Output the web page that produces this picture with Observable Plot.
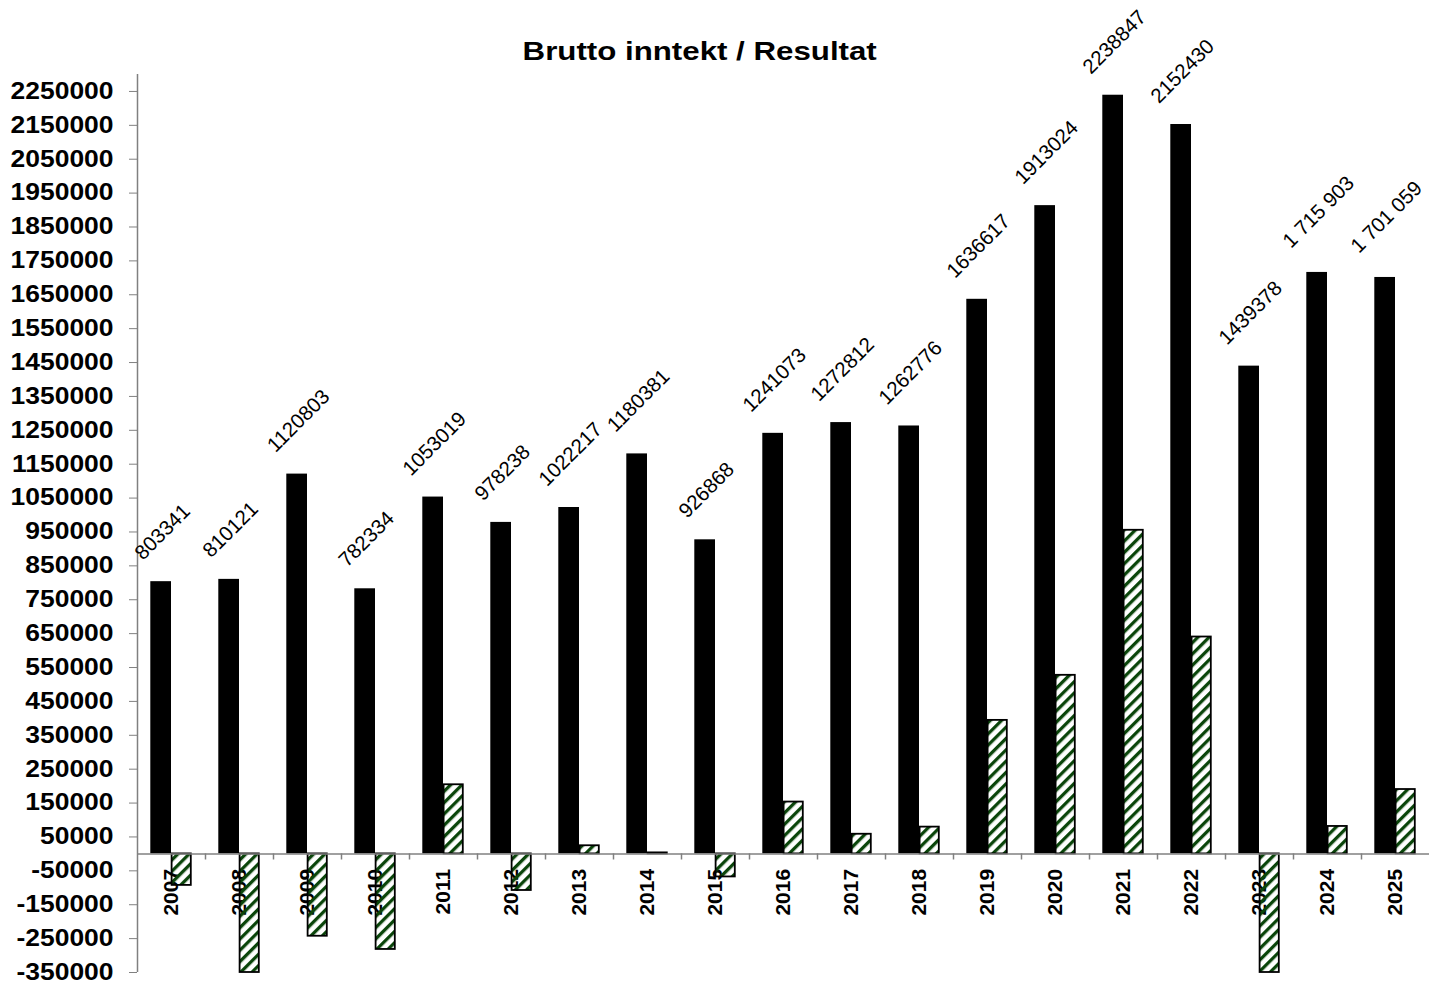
<!DOCTYPE html>
<html>
<head>
<meta charset="utf-8">
<script src="https://cdn.jsdelivr.net/npm/d3@7"></script>
<script src="https://cdn.jsdelivr.net/npm/@observablehq/plot@0.6"></script>
<style>
  body { margin: 0; background: #fff; }
  #wrap { position: relative; width: 1429px; height: 984px; overflow: hidden; }
  #title { position: absolute; top: 39px; left: 0; width: 1400px; text-align: center;
           font: bold 25px "Liberation Sans", Arial, sans-serif; line-height: 25px; color: #000; z-index: 2; }
  #title span { display: inline-block; transform: scaleX(1.25); transform-origin: center; }
</style>
</head>
<body>
<div id="wrap"><div id="title"><span>Brutto inntekt / Resultat</span></div></div>
<script>
const years = [2007, 2008, 2009, 2010, 2011, 2012, 2013, 2014, 2015, 2016, 2017, 2018, 2019, 2020, 2021, 2022, 2023, 2024, 2025];
const brutto = [803341, 810121, 1120803, 782334, 1053019, 978238, 1022217, 1180381, 926868, 1241073, 1272812, 1262776, 1636617, 1913024, 2238847, 2152430, 1439378, 1715903, 1701059];
const bruttoLabels = ["803341", "810121", "1120803", "782334", "1053019", "978238", "1022217", "1180381", "926868", "1241073", "1272812", "1262776", "1636617", "1913024", "2238847", "2152430", "1439378", "1 715 903", "1 701 059"];
const resultat = [-93000, -350000, -243000, -282000, 204000, -108000, 24000, 3000, -68000, 153000, 58000, 79000, 394000, 527000, 955000, 640000, -350000, 81000, 190000];
const yTicks = [-350000, -250000, -150000, -50000, 50000, 150000, 250000, 350000, 450000, 550000, 650000, 750000, 850000, 950000, 1050000, 1150000, 1250000, 1350000, 1450000, 1550000, 1650000, 1750000, 1850000, 1950000, 2050000, 2150000, 2250000];
const yDomain = [-350000, 2300000];

const data = years.map((year, i) => ({year, brutto: brutto[i], resultat: resultat[i], label: bruttoLabels[i]}));
const lens = [...new Set(bruttoLabels.map(s => s.length))];
const axisGray = "#808080";
const halfBand = 34;

const plot = Plot.plot({
  width: 1429,
  height: 984,
  marginTop: 74,
  marginBottom: 12,
  marginLeft: 137,
  marginRight: 0,
  style: {fontFamily: '"Liberation Sans", Arial, sans-serif', background: "white", color: "black", overflow: "visible"},
  x: {type: "band", domain: years, padding: 0, axis: null},
  y: {domain: yDomain, axis: null},
  marks: [
    Plot.axisY({ticks: yTicks, tickSize: 8, tickPadding: 16, tickFormat: d => String(d),
      stroke: axisGray, fill: "black", fontSize: 23, fontWeight: "bold", label: null}),
    Plot.ruleX([years[0]], {dx: -halfBand, stroke: axisGray, strokeWidth: 1.5}),
    Plot.text(data, {x: "year", y: () => 0, text: d => String(d.year), rotate: -90,
      textAnchor: "end", lineAnchor: "middle", dy: 15, fontWeight: "bold", fontSize: 21, fill: "black"}),
    Plot.barY(data, {x: "year", y: "brutto", fill: "black", insetLeft: 13.3, insetRight: 34}),
    Plot.barY(data, {x: "year", y: "resultat", fill: "url(#hatch)", stroke: "black", strokeWidth: 1.8,
      insetLeft: 34.6, insetRight: 14.2}),
    Plot.ruleY([0], {stroke: axisGray, strokeWidth: 1.5}),
    Plot.ruleX(years.slice(1), {x: d => d, y1: 0, y2: -18000, dx: -halfBand, stroke: axisGray, strokeWidth: 1.5}),
    ...lens.map(n => Plot.text(data.filter(d => d.label.length === n), {
      x: "year", y: "brutto", text: "label", rotate: -45, textAnchor: "middle", lineAnchor: "middle",
      dx: -9, dy: -(28 + 3.6 * n), fontSize: 20.5, fill: "black"}))
  ]
});

const svg = d3.select(plot);
const defs = svg.insert("defs", ":first-child");
const pat = defs.append("pattern").attr("id", "hatch").attr("patternUnits", "userSpaceOnUse")
  .attr("width", 8).attr("height", 8).attr("patternTransform", "rotate(45)");
pat.append("rect").attr("x", 0).attr("y", 0).attr("width", 3.3).attr("height", 8).attr("fill", "#0a450a");

document.getElementById("wrap").appendChild(plot);

// horizontal stretch of the y tick labels, as in the reference rendering
svg.selectAll('g[aria-label="y-axis tick label"] text').each(function() {
  const t = this.getAttribute("transform") || "";
  this.setAttribute("transform", t + " scale(1.15,1)");
});
</script>
</body>
</html>
